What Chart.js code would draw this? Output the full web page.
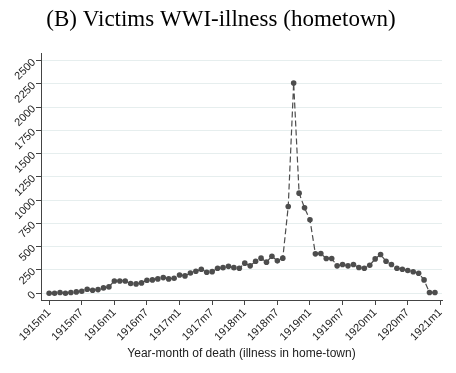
<!DOCTYPE html>
<html lang="en">
<head>
    <meta charset="UTF-8">
    <title>Victims WWI-illness (hometown)</title>
    <script src="https://cdn.jsdelivr.net/npm/chart.js@4/dist/chart.umd.min.js"></script>
    <style>
        body { margin: 0; background: #fff; }
    </style>
</head>
<body>
    <canvas id="graph" width="456" height="373"></canvas>
    <script>
        // monthly victims, 1915m1 .. 1920m12
        const months = [];
        for (let yr = 1915; yr <= 1920; yr++) {
            for (let m = 1; m <= 12; m++) months.push(yr + 'm' + m);
        }
        const victims = [
            0, 0, 7, 0, 7, 14, 21, 43, 32, 39, 57, 68,
            132, 132, 132, 104, 100, 111, 139, 143, 154, 168, 154, 161,
            196, 186, 218, 236, 257, 225, 232, 268, 275, 289, 275, 268,
            323, 294, 344, 377, 334, 398, 348, 377, 933, 2260, 1076, 918,
            789, 423, 427, 373, 373, 294, 308, 294, 308, 276, 269, 301,
            369, 416, 344, 308, 269, 258, 244, 230, 215, 143, 7, 7
        ];
        const xTickLabels = ['1915m1', '1915m7', '1916m1', '1916m7', '1917m1', '1917m7', '1918m1',
                             '1918m7', '1919m1', '1919m7', '1920m1', '1920m7', '1921m1'];
        const yTicks = [0, 250, 500, 750, 1000, 1250, 1500, 1750, 2000, 2250, 2500];

        const points = victims.map((v, i) => ({x: i, y: v}));
        const xTickPos = xTickLabels.map((_, i) => i * 6);

        const axisCol = '#444';
        const lineCol = '#4d4d4d';

        const ctx = document.getElementById('graph').getContext('2d');
        new Chart(ctx, {
            type: 'line',
            data: {
                datasets: [{
                    data: points,
                    borderColor: lineCol,
                    backgroundColor: lineCol,
                    borderWidth: 1.2,
                    borderDash: [6, 3],
                    pointRadius: 2.8,
                    pointBorderWidth: 0,
                    tension: 0,
                    fill: false
                }]
            },
            options: {
                responsive: false,
                animation: false,
                devicePixelRatio: 1,
                layout: { padding: { left: 0, right: 14, top: 0, bottom: 0 } },
                plugins: {
                    legend: { display: false },
                    tooltip: { enabled: false },
                    title: {
                        display: true,
                        text: '(B) Victims WWI-illness (hometown)',
                        color: '#000',
                        font: { family: 'Liberation Serif', size: 23, weight: 'normal' },
                        padding: { top: 6, bottom: 19.4 }
                    }
                },
                scales: {
                    x: {
                        type: 'linear',
                        min: -1.5,
                        max: 72.3,
                        afterBuildTicks: axis => { axis.ticks = xTickPos.map(v => ({value: v})); },
                        afterFit: s => { s.height = 73; },
                        border: { color: axisCol, width: 1 },
                        grid: { drawOnChartArea: false, tickLength: 5, tickColor: axisCol },
                        ticks: {
                            minRotation: 45, maxRotation: 45,
                            padding: 1,
                            color: '#222',
                            font: { family: 'Liberation Sans', size: 11 },
                            callback: v => xTickLabels[v / 6]
                        },
                        title: {
                            display: true,
                            text: 'Year-month of death (illness in home-town)',
                            color: '#222',
                            font: { family: 'Liberation Sans', size: 12 },
                            padding: { top: 0, bottom: 12 }
                        }
                    },
                    y: {
                        min: -73,
                        max: 2583,
                        afterBuildTicks: axis => { axis.ticks = yTicks.map(v => ({value: v})); },
                        afterFit: s => { s.width = 41; },
                        border: { color: axisCol, width: 1 },
                        grid: { color: '#e6eeee', lineWidth: 1, tickLength: 5, tickColor: axisCol },
                        ticks: {
                            minRotation: 45, maxRotation: 45,
                            padding: 2,
                            color: '#222',
                            font: { family: 'Liberation Sans', size: 11 },
                            callback: v => String(v)
                        }
                    }
                }
            }
        });
    </script>
</body>
</html>
